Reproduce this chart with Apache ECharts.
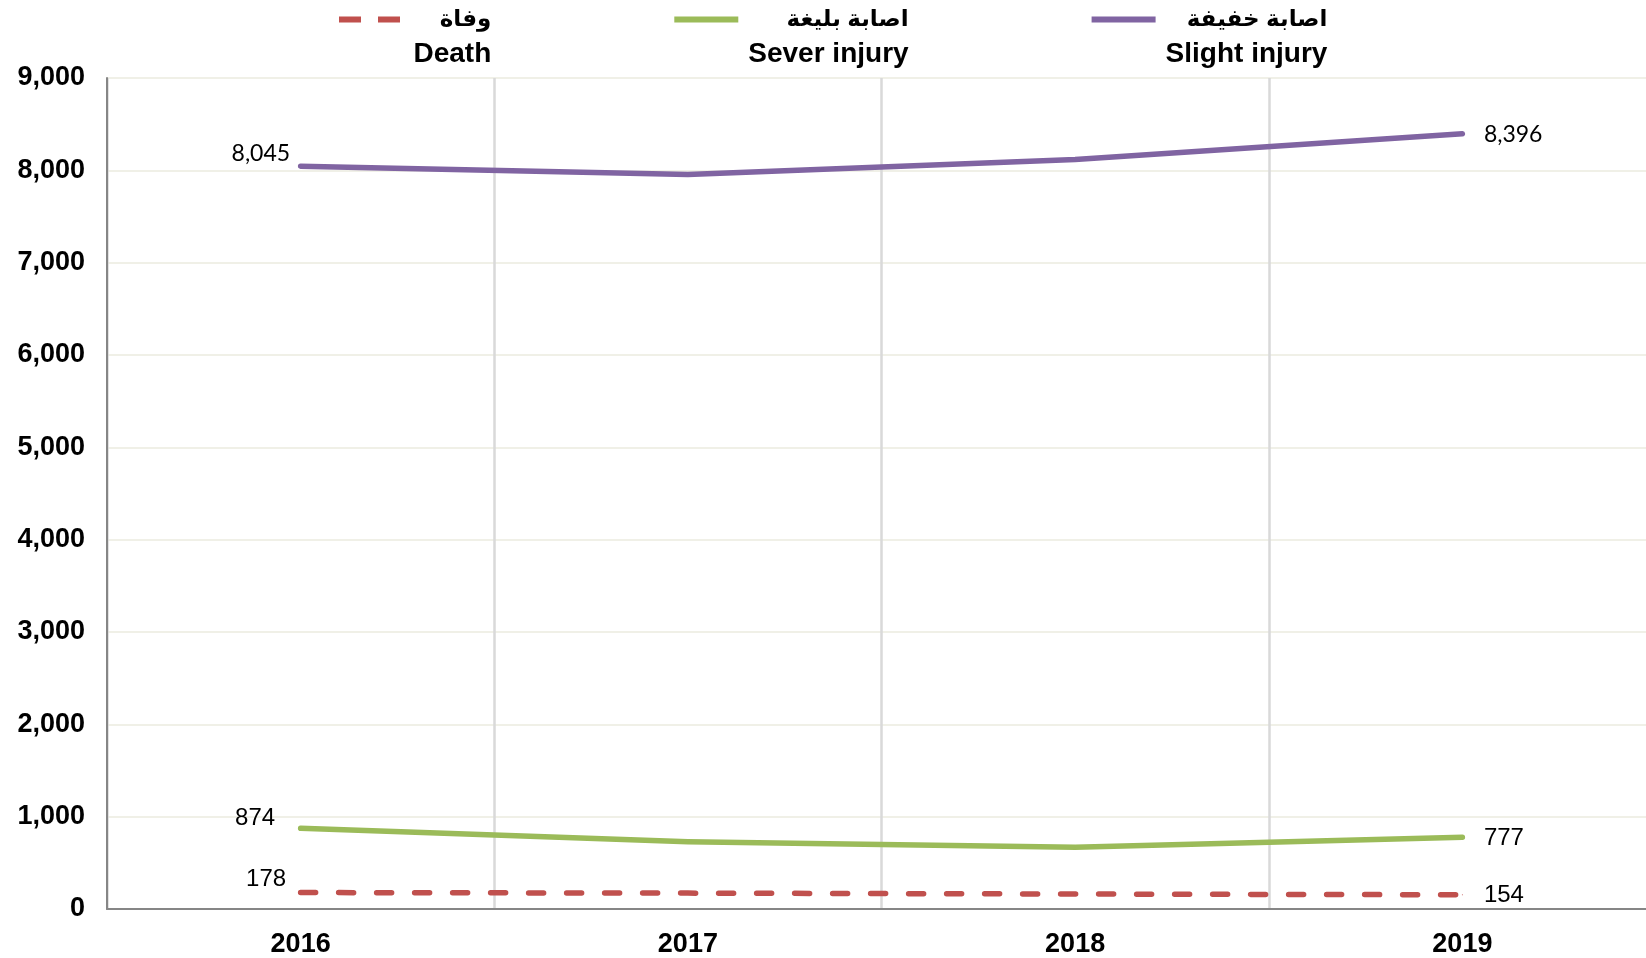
<!DOCTYPE html>
<html>
<head>
<meta charset="utf-8">
<script src="https://cdn.jsdelivr.net/npm/echarts@6/dist/echarts.min.js"></script>
<style>
  html, body { margin: 0; padding: 0; background: #ffffff; }
  #chart { width: 1646px; height: 958px; }
</style>
</head>
<body>
<div id="chart"></div>
<script>
// ---- data ----
var years = ['2016', '2017', '2018', '2019'];
var seriesNamesEn = ['Death', 'Sever injury', 'Slight injury'];
var seriesNamesAr = ['وفاة', 'اصابة بليغة', 'اصابة خفيفة'];
var deathValues = [178, 172, 162, 154];
var severValues = [874, 728, 668, 777];
var slightValues = [8045, 7955, 8118, 8396];
var yTicks = [0, 1000, 2000, 3000, 4000, 5000, 6000, 7000, 8000, 9000];

var colors = ['#C0504D', '#9BBB59', '#8064A2'];
var labelFonts = ['Liberation Sans', 'Liberation Sans', 'Lato'];
var legendIcons = [
  'path://M0,0 L22,0 L22,6 L0,6 Z M39,0 L61,0 L61,6 L39,6 Z',
  'path://M0,0 L64,0 L64,6 L0,6 Z',
  'path://M0,0 L64,0 L64,6 L0,6 Z'
];

function buildData(values, idx) {
  var last = values.length - 1;
  return values.map(function (v, i) {
    if (i === 0) {
      return { value: v, label: { show: true, position: 'left',
        distance: idx === 1 ? 25 : (idx === 2 ? 10 : 14), offset: [0, idx === 1 ? -10 : -13] } };
    }
    if (i === last) {
      return { value: v, label: { show: true, position: 'right', distance: 21, offset: [0, 1] } };
    }
    return v;
  });
}

var allValues = [deathValues, severValues, slightValues];
var series = allValues.map(function (vals, idx) {
  return {
    name: seriesNamesEn[idx],
    type: 'line',
    data: buildData(vals, idx),
    symbol: 'circle',
    symbolSize: 1,
    showSymbol: true,
    smooth: false,
    color: colors[idx],
    itemStyle: { color: colors[idx] },
    lineStyle: {
      color: colors[idx],
      width: 5.5,
      cap: 'round',
      join: 'round',
      type: idx === 0 ? [15, 23] : 'solid'
    },
    label: {
      show: false,
      color: '#000',
      fontFamily: labelFonts[idx],
      fontSize: idx === 2 ? 23 : 24,
      formatter: function (p) { return Number(p.value).toLocaleString('en-US'); }
    },
    emphasis: { disabled: true },
    z: 3
  };
});

var legendPadLeft = [7, 5, 5];
var chart = echarts.init(document.getElementById('chart'), null, { renderer: 'canvas' });
chart.setOption({
  animation: false,
  backgroundColor: '#ffffff',
  color: colors,
  grid: { left: 107, top: 78, width: 1549, height: 831, containLabel: false, outerBoundsMode: 'none' },
  legend: {
    left: 339,
    top: 8,
    padding: 0,
    itemGap: 183,
    itemWidth: 64,
    itemHeight: 6,
    data: seriesNamesEn.map(function (n, i) {
      return { name: n, icon: legendIcons[i], itemStyle: { color: colors[i] },
        textStyle: { padding: [35, 0, 0, legendPadLeft[i]] } };
    }),
    formatter: function (name) {
      var i = seriesNamesEn.indexOf(name);
      return '{ar|' + seriesNamesAr[i] + '}\n{en|' + name + '}';
    },
    textStyle: {
      color: '#000',
      fontFamily: 'Liberation Sans, DejaVu Sans',
      fontWeight: 'bold',
      fontSize: 28,
      rich: {
        ar: { fontFamily: 'Liberation Sans, DejaVu Sans', fontWeight: 'bold', fontSize: 23, lineHeight: 35, align: 'right', color: '#000' },
        en: { fontFamily: 'Liberation Sans', fontWeight: 'bold', fontSize: 28, lineHeight: 35, align: 'right', color: '#000' }
      }
    }
  },
  xAxis: {
    type: 'category',
    data: years,
    boundaryGap: true,
    axisLine: { show: true, lineStyle: { color: '#868686', width: 2 } },
    axisTick: { show: false },
    axisLabel: { color: '#000', fontFamily: 'Liberation Sans', fontWeight: 'bold', fontSize: 27, margin: 22, interval: 0 },
    splitLine: { show: true, interval: 0, lineStyle: { color: '#D9D9D9', width: 2.5 } }
  },
  yAxis: {
    type: 'value',
    min: yTicks[0],
    max: yTicks[yTicks.length - 1],
    interval: yTicks[1] - yTicks[0],
    axisLine: { show: true, lineStyle: { color: '#868686', width: 2 } },
    axisTick: { show: false },
    axisLabel: {
      color: '#000', fontFamily: 'Liberation Sans', fontWeight: 'bold', fontSize: 27, margin: 22,
      formatter: function (v) { return v.toLocaleString('en-US'); }
    },
    splitLine: { show: true, lineStyle: { color: '#EBEBDF', width: 1.5 } }
  },
  series: series
});
</script>
</body>
</html>
